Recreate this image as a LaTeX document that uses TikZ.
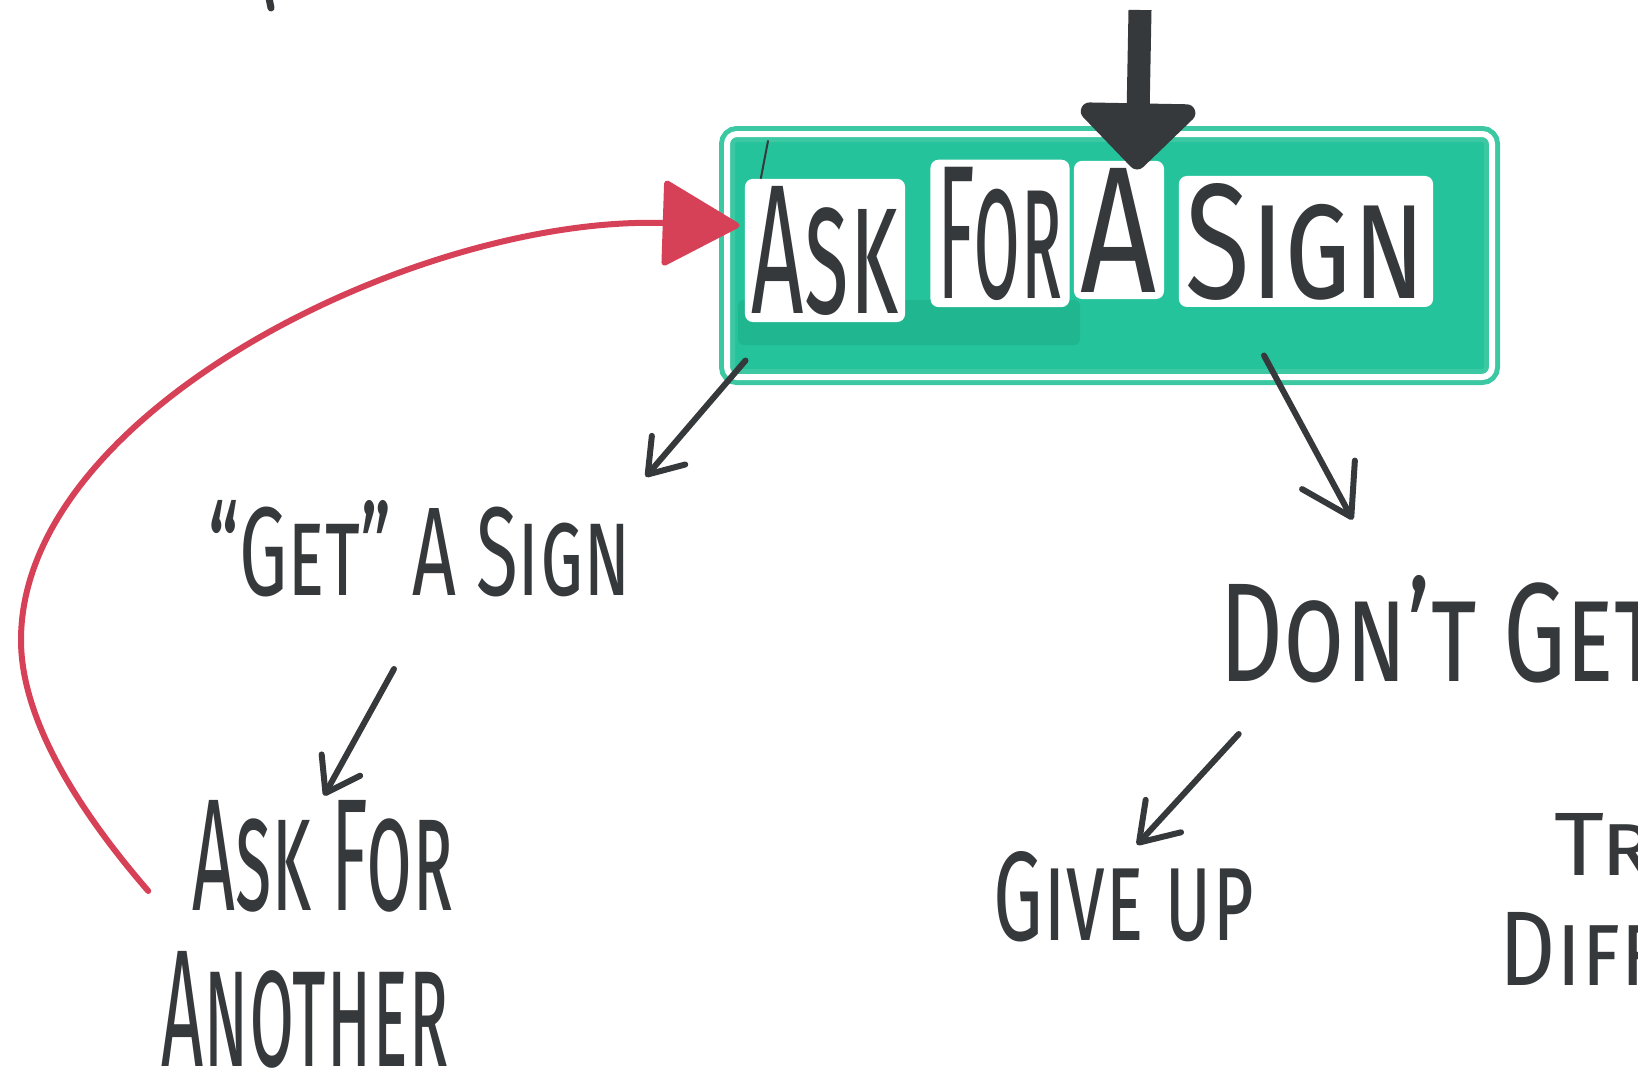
\documentclass[tikz,border=0pt]{standalone}
\usepackage{fontspec}
\setmainfont{Fira Sans}
\usepackage{graphicx}
\usetikzlibrary{arrows.meta}
\definecolor{ink}{HTML}{36393B}
\definecolor{signgreen}{HTML}{24C39C}
\definecolor{signdark}{HTML}{1FB690}
\definecolor{signline}{HTML}{3CC8A2}
\definecolor{loopred}{HTML}{D74157}
\newcommand{\fitbox}[3]{\resizebox{#1pt}{#2pt}{\textsc{#3}}}
\begin{document}
\begin{tikzpicture}[x=1pt,y=-1pt,
  lbl/.style={anchor=base,inner sep=0pt,text=ink},
  word/.style={anchor=base,inner sep=7pt,text=ink,fill=white,rounded corners=8pt},
  arr/.style={draw=ink,line width=6pt,line cap=round,line join=round},
  barb/.style={-{Straight Barb[length=#1pt,width=#1pt+12pt,round]}},
]
\useasboundingbox (0,0) rectangle (1638,1082);
\clip (0,0) rectangle (1638,1082);

% sign box
\node[draw=signline,double=white,double distance=6pt,line width=5pt,fill=signgreen,
      rounded corners=10pt,minimum width=765pt,minimum height=243pt,inner sep=0pt]
      (box) at (1109.5,255.5) {};
\fill[signdark,rounded corners=6pt] (738,300) rectangle (1080,345);
\draw[ink,line width=2pt,line cap=round] (768,141) -- (754,214);
\node[word] (wask)  at (825,313)  {\fitbox{146}{127}{Ask}};
\node[word] (wfor)  at (1000,298) {\fitbox{125}{131}{For}};
\node[word] (wa)    at (1119,292) {\fitbox{76}{124}{A}};
\node[word] (wsign) at (1306,298) {\fitbox{240}{115}{Sign}};

% labels
\node[lbl] (getsign) at (420,595)  {\fitbox{423}{95}{“Get” A Sign}};
\node[lbl] (askfor)  at (323,910)  {\fitbox{261}{110}{Ask For}};
\node[lbl] (another) at (305,1066) {\fitbox{287}{115}{Another}};
\node[lbl] (dontget) at (1440,681) {\fitbox{440}{106}{Don't Get}};
\node[lbl] (giveup)  at (1124,940) {\fitbox{260}{89}{Give up}};
\node[lbl] (tr)      at (1604,875) {\fitbox{100}{62}{Tr}};
\node[lbl] (diff)    at (1580,985) {\fitbox{160}{73}{Diff}};

% top input arrow
\coordinate (topin) at (1140,10);
\draw[ink,line width=23pt,-{Triangle[length=70pt,width=135pt,round]}]
  (topin) -- ([xshift=27.5pt,yshift=-38pt]box.north);

% connectors
\draw[arr,barb=32] ([xshift=21pt,yshift=19pt]box.south west) -- ([xshift=14pt,yshift=23pt]getsign.north east);
\draw[arr,barb=48] ([xshift=154.5pt,yshift=24pt]box.south) -- ([xshift=133pt,yshift=55pt]dontget.north west);
\draw[arr,barb=32] ([xshift=-26pt,yshift=-74pt]getsign.base) -- ([xshift=1pt,yshift=4pt]askfor.north);
\draw[arr,barb=36] ([xshift=19pt,yshift=-53pt]dontget.base west) -- ([xshift=13pt,yshift=6pt]giveup.north);

% loop back
\draw[loopred,line width=6pt,line cap=round,-{Triangle[length=80pt,width=88pt,round]}]
  ([xshift=-44pt,yshift=19pt]askfor.base west)
  .. controls (79,811) and (21,720) .. (21,640)
  .. controls (21,410) and (420,215) .. ([xshift=15pt,yshift=30pt]box.west);

% fragment at top left
\draw[ink,line width=7pt,line cap=round] (269,-2) -- (271,8);
\end{tikzpicture}
\end{document}
